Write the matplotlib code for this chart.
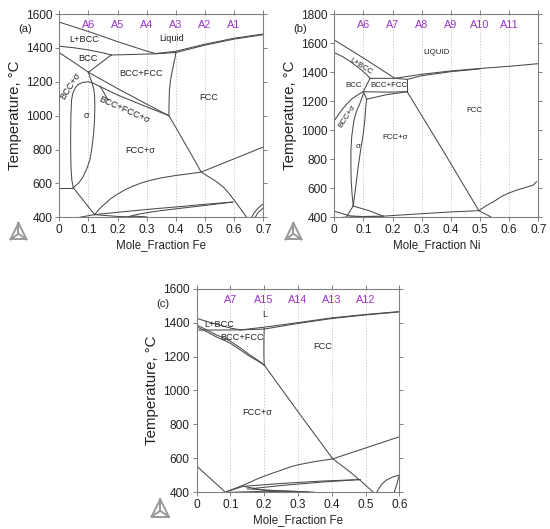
import matplotlib
matplotlib.use("Agg")
import matplotlib.pyplot as plt
from matplotlib.lines import Line2D

plt.rcParams['font.family'] = ['Liberation Sans', 'DejaVu Sans']

# ---------------- panel (a): Mole_Fraction Fe ----------------
a_liq_left = [(0, 1552), (0.1, 1497), (0.2, 1437), (0.3, 1381), (0.33, 1367)]
a_liq_right = [(0.33, 1367), (0.4, 1380), (0.5, 1422), (0.6, 1457), (0.7, 1482)]
a_sol_right = [(0.40, 1373), (0.5, 1416), (0.6, 1452), (0.7, 1478)]
a_bcc_sol = [(0, 1410), (0.05, 1401), (0.1, 1388), (0.15, 1371), (0.178, 1358)]
a_peritectic = [(0.178, 1358), (0.33, 1365), (0.40, 1373)]
a_bcc_right = [(0.178, 1358), (0.1, 1256)]
a_bcc_left = [(0, 1372), (0.05, 1315), (0.1, 1256)]
a_bcc_fcc_low = [(0.1, 1256), (0.2, 1160), (0.3, 1068), (0.376, 1000)]
a_bfs_low = [(0.112, 1195), (0.2, 1122), (0.3, 1052), (0.376, 1000)]
a_bcc_sig = [(0.1, 1256), (0.106, 1225), (0.112, 1195)]
a_fcc_left = [(0.40, 1373), (0.397, 1340), (0.392, 1300), (0.386, 1250), (0.381, 1200),
              (0.378, 1150), (0.377, 1100), (0.376, 1000)]
a_fcc_low = [(0.376, 1000), (0.40, 930), (0.43, 840), (0.46, 750), (0.487, 667),
             (0.51, 642), (0.54, 610), (0.565, 575), (0.585, 535), (0.603, 495),
             (0.62, 455), (0.643, 400)]
a_upper_right = [(0.487, 667), (0.7, 815)]
a_sigma_left = [(0.048, 575), (0.043, 620), (0.040, 700), (0.039, 800), (0.039, 896),
                (0.040, 1000), (0.042, 1092), (0.047, 1135), (0.055, 1165),
                (0.065, 1185), (0.08, 1196), (0.1, 1200), (0.112, 1195)]
a_sigma_right = [(0.112, 1195), (0.118, 1160), (0.121, 1120), (0.122, 1060),
                 (0.121, 980), (0.118, 900), (0.112, 810), (0.105, 739), (0.095, 690),
                 (0.082, 640), (0.068, 605), (0.048, 575)]
a_eut_h = [(0, 575), (0.048, 575)]
a_diag = [(0.048, 575), (0.121, 416)]
a_curve_low = [(0.121, 416), (0.135, 445), (0.15, 470), (0.175, 508), (0.2, 537),
               (0.225, 562), (0.25, 582), (0.28, 602), (0.31, 617), (0.35, 633),
               (0.4, 647), (0.45, 658), (0.487, 667)]
a_pair_up = [(0.121, 416), (0.25, 438), (0.33, 451), (0.42, 464), (0.5, 477), (0.595, 490)]
a_pair_low = [(0.235, 402), (0.25, 410), (0.27, 418), (0.3, 427), (0.33, 435),
              (0.37, 444), (0.42, 454), (0.5, 470), (0.595, 490)]
a_bottom_1 = [(0.07, 400), (0.121, 416)]
a_bottom_2 = [(0.121, 416), (0.2, 405), (0.3, 400)]
a_bottom_3 = [(0.23, 400), (0.26, 407), (0.3, 402)]
a_br_1 = [(0.66, 400), (0.668, 425), (0.68, 450), (0.69, 466), (0.7, 480)]
a_br_2 = [(0.672, 400), (0.682, 428), (0.7, 455)]
a_leader = [(0.14, 1175), (0.168, 1090)]

a_lines = [a_liq_left, a_liq_right, a_sol_right, a_bcc_sol, a_peritectic, a_bcc_right,
           a_bcc_left, a_bcc_fcc_low, a_bfs_low, a_bcc_sig, a_fcc_left, a_fcc_low,
           a_upper_right, a_sigma_left, a_sigma_right, a_eut_h, a_diag, a_curve_low,
           a_pair_up, a_pair_low, a_bottom_1, a_bottom_2, a_bottom_3, a_br_1, a_br_2,
           a_leader]
a_alloys = ['A6', 'A5', 'A4', 'A3', 'A2', 'A1']
a_alloy_x = [0.1, 0.2, 0.3, 0.4, 0.5, 0.6]
a_phase_labels = [('L+BCC', 0.086, 1447, 0), ('Liquid', 0.385, 1453, 0),
                  ('BCC', 0.10, 1336, 0), ('BCC+FCC', 0.282, 1246, 0),
                  ('FCC', 0.513, 1106, 0), ('BCC+σ', 0.038, 1178, 57),
                  ('σ', 0.0915, 1000, 0), ('BCC+FCC+σ', 0.222, 1034, -24),
                  ('FCC+σ', 0.279, 794, 0)]

# ---------------- panel (b): Mole_Fraction Ni ----------------
b_liq_left = [(0, 1621), (0.1, 1497), (0.208, 1357)]
b_bcc_sol = [(0, 1534), (0.03, 1505), (0.06, 1465), (0.09, 1420), (0.11, 1385),
             (0.1225, 1357)]
b_box_top = [(0.1225, 1357), (0.208, 1357), (0.25, 1350)]
b_liq_right = [(0.208, 1357), (0.25, 1370), (0.3, 1385), (0.4, 1408), (0.5, 1425),
               (0.6, 1440), (0.7, 1458)]
b_sol_right = [(0.25, 1350), (0.3, 1375), (0.4, 1403), (0.5, 1422)]
b_box_right = [(0.25, 1350), (0.25, 1265)]
b_box_left = [(0.1225, 1357), (0.0995, 1265)]
b_box_bottom = [(0.0995, 1265), (0.18, 1262), (0.25, 1265)]
b_bfs = [(0.111, 1213), (0.18, 1245), (0.25, 1265)]
b_bcc_sig = [(0, 1065), (0.015, 1110), (0.03, 1150), (0.045, 1185), (0.06, 1215),
             (0.08, 1243), (0.0995, 1265)]
b_bs_link = [(0.0995, 1265), (0.111, 1213)]
b_sigma_left = [(0.065, 478), (0.061, 560), (0.058, 650), (0.057, 760), (0.057, 864),
                (0.06, 960), (0.0675, 1070), (0.076, 1130), (0.088, 1185),
                (0.0995, 1250)]
b_sigma_right = [(0.065, 478), (0.073, 600), (0.082, 749), (0.091, 870), (0.0995, 978),
                 (0.105, 1070), (0.1075, 1150), (0.111, 1213)]
b_fcc_low = [(0.25, 1265), (0.37, 870), (0.496, 446)]
b_low_line = [(0.168, 408), (0.3, 425), (0.4, 437), (0.496, 446)]
b_sig_diag = [(0.065, 478), (0.12, 445), (0.168, 408)]
b_sig_down = [(0.065, 478), (0.042, 405)]
b_left_low = [(0, 442), (0.054, 410), (0.1, 405), (0.168, 404)]
b_bottom = [(0.03, 400), (0.1, 406), (0.168, 408)]
b_br_line = [(0.496, 446), (0.54, 400)]
b_br_curve = [(0.496, 446), (0.52, 478), (0.55, 512), (0.575, 545), (0.6, 568),
              (0.63, 590), (0.66, 608), (0.683, 622), (0.694, 645)]

b_lines = [b_liq_left, b_bcc_sol, b_box_top, b_liq_right, b_sol_right, b_box_right,
           b_box_left, b_box_bottom, b_bfs, b_bcc_sig, b_bs_link, b_sigma_left,
           b_sigma_right, b_fcc_low, b_low_line, b_sig_diag, b_sig_down, b_left_low,
           b_bottom, b_br_line, b_br_curve]
b_alloys = ['A6', 'A7', 'A8', 'A9', 'A10', 'A11']
b_alloy_x = [0.1, 0.2, 0.3, 0.4, 0.5, 0.6]
b_phase_labels = [('LIQUID', 0.351, 1536, 0), ('L+BCC', 0.092, 1437, -32),
                  ('BCC', 0.0675, 1311, 0), ('BCC+FCC', 0.1875, 1307, 0),
                  ('FCC', 0.479, 1139, 0), ('BCC+σ', 0.046, 1093, 57),
                  ('σ', 0.082, 887, 0), ('FCC+σ', 0.208, 951, 0)]

# ---------------- panel (c): Mole_Fraction Fe ----------------
c_liq_left = [(0, 1425), (0.05, 1395), (0.1, 1368), (0.13, 1357)]
c_liq_right = [(0.13, 1357), (0.2, 1373), (0.3, 1400), (0.4, 1428), (0.5, 1448), (0.6, 1465)]
c_sol_right = [(0.2, 1362), (0.3, 1395), (0.4, 1424), (0.5, 1445), (0.6, 1463)]
c_peri = [(0, 1356), (0.13, 1357), (0.2, 1362)]
c_bcc_1 = [(0, 1386), (0.03, 1357), (0.059, 1327), (0.08, 1310), (0.1, 1290),
           (0.13, 1250), (0.158, 1209), (0.18, 1180), (0.2, 1150)]
c_bcc_2 = [(0, 1376), (0.03, 1346), (0.059, 1315), (0.08, 1297), (0.1, 1278),
           (0.13, 1238), (0.158, 1200), (0.18, 1175), (0.2, 1150)]
c_fcc_vert = [(0.2, 1362), (0.199, 1300), (0.199, 1200), (0.2, 1150)]
c_fcc_low = [(0.2, 1150), (0.3, 875), (0.403, 597), (0.43, 557), (0.454, 520),
             (0.49, 460), (0.523, 400)]
c_upper_right = [(0.403, 597), (0.6, 727)]
c_curve_low = [(0.089, 404), (0.12, 428), (0.15, 452), (0.175, 475), (0.197, 493),
               (0.225, 513), (0.25, 530), (0.275, 548), (0.3, 562), (0.35, 581),
               (0.403, 597)]
c_left_diag = [(0, 555), (0.085, 400)]
c_pair_up = [(0.138, 435), (0.25, 452), (0.37, 466), (0.484, 475)]
c_pair_low = [(0.165, 422), (0.25, 440), (0.37, 460), (0.484, 475)]
c_bottom_1 = [(0.089, 404), (0.138, 435)]
c_bottom_2 = [(0.138, 435), (0.2, 412), (0.3, 405), (0.35, 400)]
c_bottom_3 = [(0.15, 420), (0.25, 408), (0.33, 402)]
c_bottom_4 = [(0.1, 400), (0.2, 406), (0.3, 400)]
c_br_1 = [(0.533, 400), (0.545, 440), (0.56, 470), (0.58, 490), (0.6, 502)]
c_br_2 = [(0.585, 400), (0.593, 450), (0.6, 502)]

c_lines = [c_liq_left, c_liq_right, c_sol_right, c_peri, c_bcc_1, c_bcc_2, c_fcc_vert,
           c_fcc_low, c_upper_right, c_curve_low, c_left_diag, c_pair_up, c_pair_low,
           c_bottom_1, c_bottom_2, c_bottom_3, c_bottom_4, c_br_1, c_br_2]
c_alloys = ['A7', 'A15', 'A14', 'A13', 'A12']
c_alloy_x = [0.1, 0.2, 0.3, 0.4, 0.5]
c_phase_labels = [('L', 0.202, 1449, 0), ('L+BCC', 0.067, 1386, 0),
                  ('BCC+FCC', 0.135, 1313, 0), ('FCC', 0.373, 1258, 0),
                  ('FCC+σ', 0.18, 869, 0)]

LINE_COL = '#4a4a4a'
AXIS_COL = '#808080'
PURPLE = '#9b35c8'


def draw_logo(ax, cx, cy, w, h):
    """ small triangle logo below the axes """
    tr = ax.transAxes
    p1 = (cx - w / 2, cy - h / 2)
    p2 = (cx + w / 2, cy - h / 2)
    p3 = (cx, cy + h / 2)
    mid = (cx, cy - h / 6)
    for a, b in [(p1, p2), (p2, p3), (p3, p1), (p1, mid), (p2, mid), (p3, mid)]:
        ax.add_line(Line2D([a[0], b[0]], [a[1], b[1]], transform=tr, color='#999999',
                           lw=1.4, clip_on=False))


def panel(ax, lines, alloys, alloy_x, labels, xmax, ymin, ymax, alloy_y, tag, tag_x,
          tag_y, element, label_size):
    for xv in alloy_x:
        ax.axvline(xv, color='#c0c0c0', lw=0.6, ls=(0, (1.5, 2)), zorder=1)
    for seg in lines:
        xs, ts = zip(*seg)
        ax.plot(xs, ts, color=LINE_COL, lw=0.75, zorder=2)
    for name, xv in zip(alloys, alloy_x):
        ax.text(xv, alloy_y, name, color=PURPLE, fontsize=7.8, ha='center', va='center')
    for text, xv, tv, rot in labels:
        ax.text(xv, tv, text, fontsize=label_size, color='#222222', ha='center',
                va='center', rotation=rot)
    ax.set_xlim(0, xmax)
    ax.set_ylim(ymin, ymax)
    xt = [round(0.1 * i, 1) for i in range(int(round(xmax * 10)) + 1)]
    ax.set_xticks(xt)
    ax.set_xticklabels(['0' if v == 0 else str(v) for v in xt])
    ax.set_yticks(range(ymin, ymax + 1, 200))
    ax.tick_params(direction='out', length=3, width=0.7, color=AXIS_COL, top=True,
                   right=True, labelsize=8.6, labelcolor='#222222', pad=2)
    for sp in ax.spines.values():
        sp.set_color(AXIS_COL)
        sp.set_linewidth(0.8)
    ax.set_xlabel('Mole_Fraction ' + element, fontsize=8.3, color='#222222', labelpad=2)
    ax.set_ylabel('Temperature, °C', fontsize=10.8, color='#222222', labelpad=3)
    ax.text(tag_x, tag_y, tag, transform=ax.transAxes, fontsize=8, color='#222222',
            ha='center', va='center')


fig = plt.figure(figsize=(5.5, 5.29), dpi=100)
ax_a = fig.add_axes([0.1078, 0.5892, 0.3709, 0.3843])
ax_b = fig.add_axes([0.6078, 0.5892, 0.3709, 0.3843])
ax_c = fig.add_axes([0.3576, 0.0694, 0.3684, 0.3849])

panel(ax_a, a_lines, a_alloys, a_alloy_x, a_phase_labels, 0.7, 400, 1600, 1535, '(a)',
      -0.166, 0.926, 'Fe', 6.6)
panel(ax_b, b_lines, b_alloys, b_alloy_x, b_phase_labels, 0.7, 400, 1800, 1724, '(b)',
      -0.166, 0.926, 'Ni', 5.7)
panel(ax_c, c_lines, c_alloys, c_alloy_x, c_phase_labels, 0.6, 400, 1600, 1533, '(c)',
      -0.168, 0.923, 'Fe', 6.6)

draw_logo(ax_a, -0.2, -0.068, 0.078, 0.08)
draw_logo(ax_b, -0.2, -0.068, 0.078, 0.08)
draw_logo(ax_c, -0.18, -0.077, 0.085, 0.085)

fig.savefig('out.png', dpi=100)
